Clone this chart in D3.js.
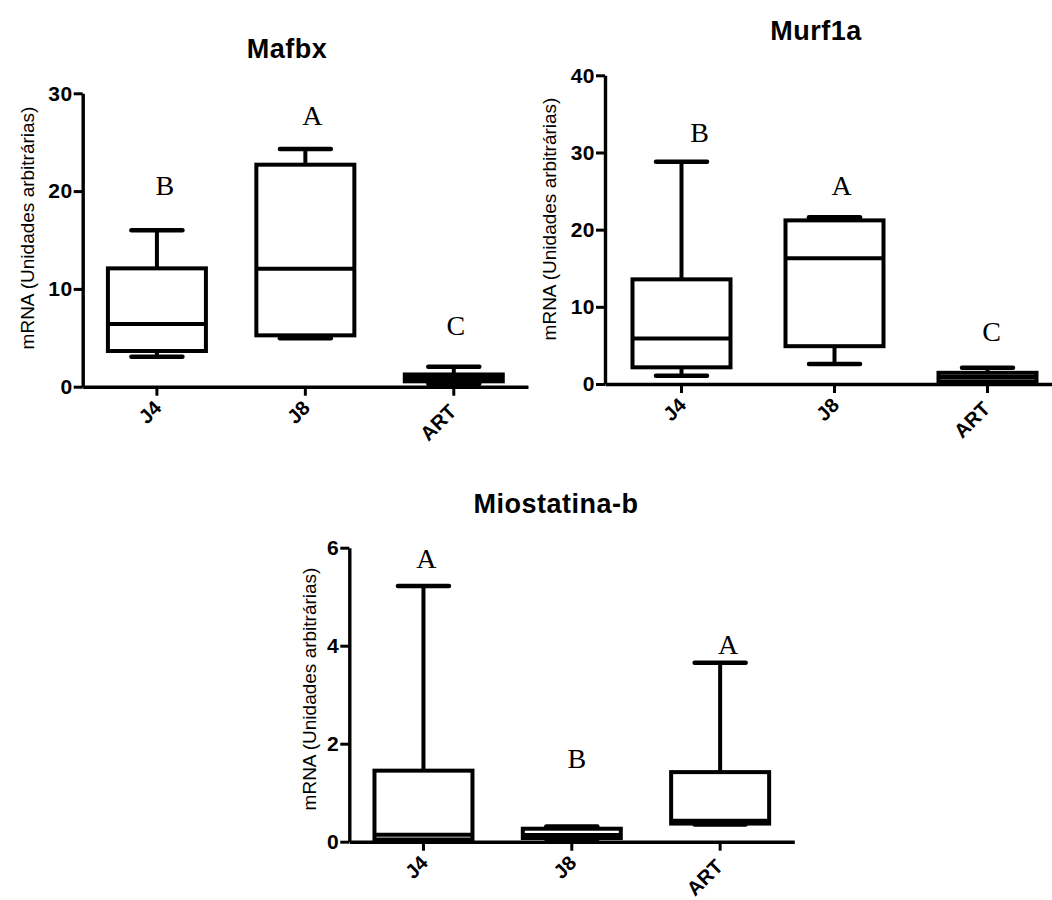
<!DOCTYPE html>
<html>
<head>
<meta charset="utf-8">
<script src="https://cdn.jsdelivr.net/npm/d3@7"></script>
<style>
  body { margin: 0; background: #fff; }
  svg { display: block; }
</style>
</head>
<body>
<script>
// Groups shared by all three panels
const groups = ["J4", "J8", "ART"];

// Five-number summaries per group: [min, q1, median, q3, max]
const mafbxStats = [
  [3.07, 3.65, 6.4, 12.1, 16.0],
  [4.95, 5.25, 12.05, 22.7, 24.3],
  [0.3, 0.55, 0.9, 1.25, 2.05]
];
const murf1aStats = [
  [1.08, 2.16, 5.9, 13.56, 28.8],
  [2.6, 4.9, 16.3, 21.2, 21.6],
  [0.3, 0.35, 0.9, 1.45, 2.1]
];
const miostatinaStats = [
  [0.01, 0.045, 0.143, 1.45, 5.22],
  [0.05, 0.075, 0.137, 0.265, 0.31],
  [0.35, 0.37, 0.43, 1.42, 3.65]
];

// Significance letters and the value-axis height where each one sits
const mafbxLetters = ["B", "A", "C"];
const mafbxLetterAt = [19.6, 26.8, 5.3];
const murf1aLetters = ["B", "A", "C"];
const murf1aLetterAt = [31.4, 24.5, 5.6];
const miostatinaLetters = ["A", "B", "A"];
const miostatinaLetterAt = [5.58, 1.5, 3.84];

// Tick values
const mafbxTicks = [0, 10, 20, 30];
const murf1aTicks = [0, 10, 20, 30, 40];
const miostatinaTicks = [0, 2, 4, 6];

const yLabel = "mRNA (Unidades arbitrárias)";

const svg = d3.select("body").append("svg")
  .attr("width", 1052).attr("height", 900)
  .style("background", "#fff");

function drawPanel(cfg) {
  const x = d3.scaleBand().domain(groups).range([cfg.left, cfg.right]);
  const y = d3.scaleLinear().domain([0, cfg.yMax]).range([cfg.bottom, cfg.top]);
  const g = svg.append("g");

  // Title
  g.append("text")
    .attr("x", cfg.titleX).attr("y", cfg.titleY)
    .attr("text-anchor", "middle")
    .style("font-family", "'Liberation Sans', Arial, sans-serif")
    .style("font-weight", "bold")
    .style("font-size", "27px")
    .style("letter-spacing", "0.5px")
    .text(cfg.title);

  // Value axis
  const yAxis = d3.axisLeft(y).tickValues(cfg.ticks).tickFormat(d3.format("d"))
    .tickSize(9).tickSizeOuter(0).tickPadding(1);
  const ya = g.append("g").attr("transform", `translate(${cfg.left},0)`).call(yAxis);
  ya.select(".domain").attr("stroke-width", 3.4);
  ya.selectAll(".tick line").attr("stroke-width", 3);
  ya.selectAll(".tick text")
    .style("font-family", "'Liberation Sans', Arial, sans-serif")
    .style("font-weight", "bold")
    .style("font-size", "21px")
    .style("letter-spacing", "0.5px")
    .attr("fill", "#000");

  // Category axis
  const xAxis = d3.axisBottom(x).tickSize(9).tickSizeOuter(0);
  const xa = g.append("g").attr("transform", `translate(0,${cfg.bottom})`).call(xAxis);
  xa.select(".domain").attr("stroke-width", 3.4);
  xa.selectAll(".tick line").attr("stroke-width", 3);
  xa.selectAll(".tick text")
    .attr("x", 0).attr("y", 0).attr("dy", 0)
    .attr("text-anchor", "end")
    .style("font-family", "'Liberation Sans', Arial, sans-serif")
    .style("font-weight", "bold")
    .style("font-size", "20px")
    .attr("fill", "#000")
    .attr("transform", function() {
      // longer labels sit a little lower along the diagonal
      const L = this.getComputedTextLength();
      return `translate(${8 - 0.1 * L},${18 + 0.2 * L}) rotate(-45)`;
    });

  // Axis title
  g.append("text")
    .attr("transform", `translate(${cfg.labelX},${cfg.labelY}) rotate(-90)`)
    .attr("text-anchor", "middle")
    .attr("dy", "0.35em")
    .style("font-family", "'Liberation Sans', Arial, sans-serif")
    .style("font-size", "19px")
    .text(yLabel);

  // Box plots
  const boxW = 98, capW = 51;
  const boxes = g.selectAll("g.box").data(cfg.stats).join("g").attr("class", "box");
  boxes.each(function(s, i) {
    const cx = x(groups[i]) + x.bandwidth() / 2;
    const b = d3.select(this);
    const [mn, q1, md, q3, mx] = s;
    // whiskers
    b.append("line").attr("x1", cx).attr("x2", cx).attr("y1", y(q3)).attr("y2", y(mx))
      .attr("stroke", "#000").attr("stroke-width", 4);
    b.append("line").attr("x1", cx).attr("x2", cx).attr("y1", y(q1)).attr("y2", y(mn))
      .attr("stroke", "#000").attr("stroke-width", 4);
    // caps
    [mn, mx].forEach(v => {
      b.append("line").attr("x1", cx - capW / 2).attr("x2", cx + capW / 2)
        .attr("y1", y(v)).attr("y2", y(v))
        .attr("stroke", "#000").attr("stroke-width", 4.5).attr("stroke-linecap", "round");
    });
    // box
    b.append("rect").attr("x", cx - boxW / 2).attr("width", boxW)
      .attr("y", y(q3)).attr("height", y(q1) - y(q3))
      .attr("fill", "#fff").attr("stroke", "#000").attr("stroke-width", 4);
    // median
    b.append("line").attr("x1", cx - boxW / 2).attr("x2", cx + boxW / 2)
      .attr("y1", y(md)).attr("y2", y(md))
      .attr("stroke", "#000").attr("stroke-width", 4);
  });

  // Significance letters
  g.selectAll("text.letter").data(cfg.letters).join("text")
    .attr("class", "letter")
    .attr("x", (d, i) => x(groups[i]) + x.bandwidth() / 2 + cfg.letterDx[i])
    .attr("y", (d, i) => y(cfg.letterAt[i]))
    .attr("text-anchor", "middle")
    .style("font-family", "'Liberation Serif', 'Times New Roman', serif")
    .style("font-size", "28px")
    .text(d => d);
}

drawPanel({
  title: "Mafbx", titleX: 287, titleY: 58,
  stats: mafbxStats, ticks: mafbxTicks, yMax: 30,
  letters: mafbxLetters, letterAt: mafbxLetterAt, letterDx: [8, 7, 2],
  left: 82.7, right: 528, top: 93.3, bottom: 386.7,
  labelX: 27, labelY: 228
});

drawPanel({
  title: "Murf1a", titleX: 816, titleY: 40,
  stats: murf1aStats, ticks: murf1aTicks, yMax: 40,
  letters: murf1aLetters, letterAt: murf1aLetterAt, letterDx: [18, 7, 4],
  left: 605, right: 1064, top: 75.3, bottom: 384,
  labelX: 549, labelY: 219
});

drawPanel({
  title: "Miostatina-b", titleX: 556, titleY: 513,
  stats: miostatinaStats, ticks: miostatinaTicks, yMax: 6,
  letters: miostatinaLetters, letterAt: miostatinaLetterAt, letterDx: [3, 5, 8],
  left: 349.3, right: 794.3, top: 547.7, bottom: 841.7,
  labelX: 309, labelY: 689
});
</script>
</body>
</html>
